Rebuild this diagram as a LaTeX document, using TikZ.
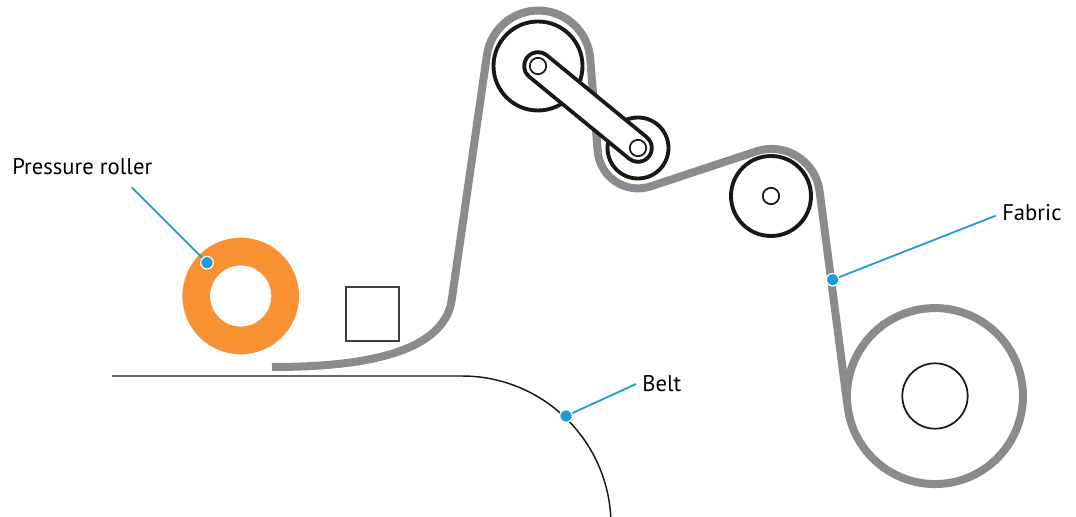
\documentclass[tikz,border=0pt]{standalone}
\usepackage{fontspec}
\setmainfont{PT Sans}
\definecolor{beltgray}{HTML}{8A8B8F}
\definecolor{rollerorange}{HTML}{F79132}
\definecolor{leaderblue}{HTML}{1F9BD7}
\definecolor{ink}{HTML}{1A1715}
\definecolor{squaregray}{HTML}{404040}
\tikzset{
  x=0.75pt, y=0.75pt,
  fabricbelt/.style={draw=beltgray, line width=6pt, line join=round},
  rollerring/.style={draw=ink, line width=2.9pt, fill=white},
  axle/.style={draw=ink, line width=1.3pt, fill=white},
  leader/.style={draw=leaderblue, line width=1.35pt},
  leaderdot/.style={circle, fill=leaderblue, draw=white, line width=0.9pt, minimum size=9.4pt, inner sep=0pt},
  calllabel/.style={text=black, font=\fontsize{17}{20}\selectfont, inner sep=0pt, anchor=base west},
}
\begin{document}
\begin{tikzpicture}
\useasboundingbox (0,0) rectangle (1076,-517);
\coordinate (c1) at (538,-66);
\coordinate (c2) at (638,-148);
\coordinate (c3) at (771,-196);
\coordinate (c4) at (935,-396);
\coordinate (c5) at (240.7,-296);

% pressure roller
\fill[rollerorange, even odd rule] (c5) circle[radius=58.3] (c5) circle[radius=30.6];
% square
\node[draw=squaregray, line width=1.6pt, minimum size=40pt, inner sep=0pt] (block) at (372.7,-314) {};
% belt conveyor
\draw[draw=ink, line width=1.1pt] (112,-376) -- (462,-376) arc[start angle=90, end angle=3, radius=149];
% fabric
\draw[fabricbelt] (272,-367) .. controls (340,-367) and (445,-360) .. (452,-298)
  -- (486.9,-55.3) arc[start angle=172, end angle=3, radius=52]
  -- (597.6,-150) arc[start angle=183, end angle=289, radius=40.5]
  -- (755.7,-151.6) arc[start angle=109, end angle=7.4, radius=48.5]
  -- (847.7,-407.4) arc[start angle=187.4, end angle=547.4, radius=88];
% rollers
\draw[rollerring] (c1) circle[radius=44.5];
\draw[rollerring] (c2) circle[radius=30.5];
\draw[rollerring] (c3) circle[radius=40];
\draw[draw=ink, line width=1.3pt] (c4) circle[radius=32.7];
\draw[axle] (c3) circle[radius=8.2];
% arm
\draw[draw=ink, line width=2.9pt, double=white, double distance=17.8pt, line cap=round] (c1) -- (c2);
\draw[axle] (c1) circle[radius=8.2];
\draw[axle] (c2) circle[radius=8.2];
% labels
\node[calllabel] (lpress) at (12,-175) {Pressure roller};
\node[calllabel] (lfabric) at (1002,-220) {Fabric};
\node[calllabel] (lbelt) at (642,-391) {Belt};
\coordinate (epress) at (131.7,-187.3);
\coordinate (efabric) at (995.7,-215.7);
\coordinate (ebelt) at (636,-384);
\node[leaderdot] (dpress) at (207,-262.7) {};
\node[leaderdot] (dfabric) at (832.7,-279.7) {};
\node[leaderdot] (dbelt) at (566,-416) {};
\draw[leader] (epress) -- (dpress);
\draw[leader] (efabric) -- (dfabric);
\draw[leader] (ebelt) -- (dbelt);
\end{tikzpicture}
\end{document}
